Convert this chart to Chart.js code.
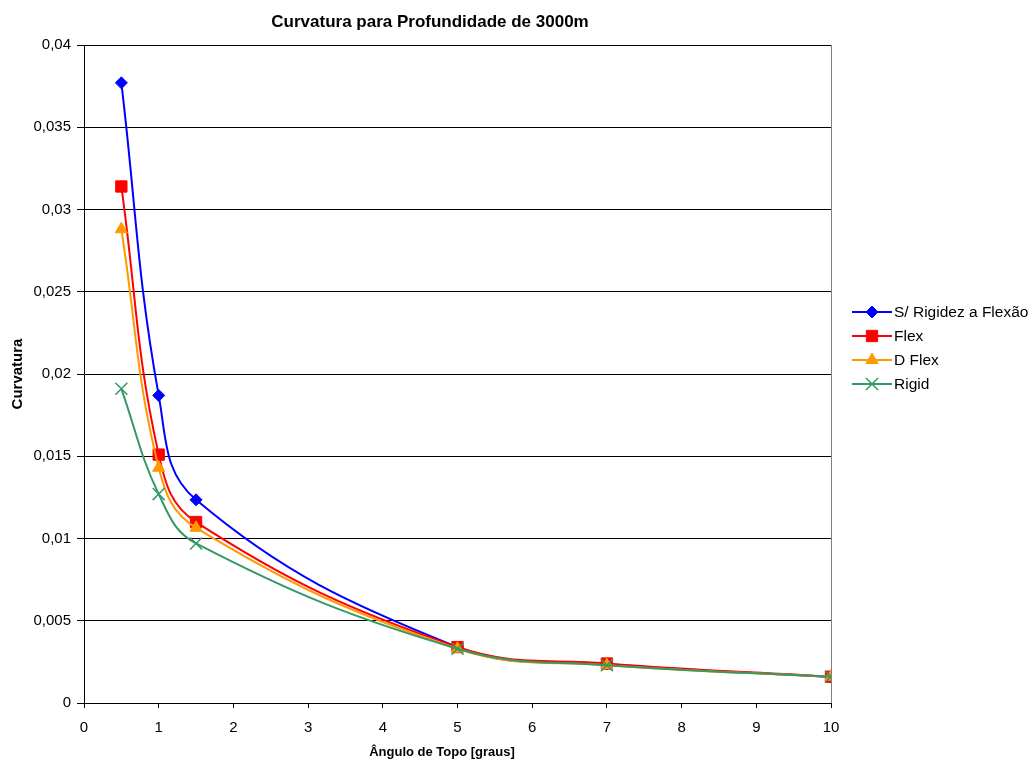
<!DOCTYPE html>
<html>
<head>
<meta charset="utf-8">
<script src="https://cdn.jsdelivr.net/npm/chart.js@4"></script>
<style>
  html, body { margin: 0; padding: 0; background: #fff; }
  canvas { display: block; }
</style>
</head>
<body>
<canvas id="c" width="1030" height="760"></canvas>
<script>
// Ângulo de topo (graus)
const angles = [0.5, 1, 1.5, 5, 7, 10];

// Curvatura por modelo
const semRigidez = [0.0377, 0.0187, 0.01235, 0.0034, 0.00237, 0.00158];
const flex       = [0.0314, 0.0151, 0.0110, 0.0034, 0.0024, 0.0016];
const dFlex      = [0.0288, 0.0143, 0.01065, 0.0033, 0.0023, 0.0016];
const rigid      = [0.0191, 0.0127, 0.0097, 0.0033, 0.0023, 0.0016];

const seriesNames = ['S/ Rigidez a Flexão', 'Flex', 'D Flex', 'Rigid'];

const chartTitle = 'Curvatura para Profundidade de 3000m';
const xTitle = 'Ângulo de Topo [graus]';
const yTitle = 'Curvatura';

const FONT = '"Liberation Sans", Arial, sans-serif';

function pts(values) {
  return angles.map((a, i) => ({ x: a, y: values[i] }));
}

function fmtY(v) {
  return String(parseFloat(v.toFixed(4))).replace('.', ',');
}

// Title, axis titles, plot-area right edge and legend
const decorations = {
  id: 'decorations',
  afterDraw(chart) {
    const ctx = chart.ctx;
    const area = chart.chartArea;
    ctx.save();

    // plot area right edge
    ctx.strokeStyle = '#808080';
    ctx.lineWidth = 1;
    ctx.beginPath();
    ctx.moveTo(Math.round(area.right) + 0.5, area.top);
    ctx.lineTo(Math.round(area.right) + 0.5, area.bottom);
    ctx.stroke();

    ctx.fillStyle = '#000';
    ctx.textBaseline = 'middle';
    ctx.textAlign = 'center';
    ctx.font = 'bold 17px ' + FONT;
    ctx.fillText(chartTitle, 430, 22);

    ctx.font = 'bold 13px ' + FONT;
    ctx.fillText(xTitle, 442, 752);

    ctx.save();
    ctx.font = 'bold 15px ' + FONT;
    ctx.translate(18, (area.top + area.bottom) / 2);
    ctx.rotate(-Math.PI / 2);
    ctx.fillText(yTitle, 0, 0);
    ctx.restore();

    // legend
    const rows = [312, 336, 360, 384];
    chart.data.datasets.forEach((ds, i) => {
      const y = rows[i];
      ctx.strokeStyle = ds.borderColor;
      ctx.lineWidth = 2;
      ctx.beginPath();
      ctx.moveTo(852, y);
      ctx.lineTo(892, y);
      ctx.stroke();
      ctx.fillStyle = ds.pointBackgroundColor;
      ctx.strokeStyle = ds.pointBorderColor;
      ctx.lineWidth = ds.pointBorderWidth;
      Chart.helpers.drawPoint(ctx, {
        pointStyle: ds.pointStyle,
        radius: ds.pointRadius,
        rotation: 0,
        borderWidth: ds.pointBorderWidth
      }, 872, y);
      ctx.fillStyle = '#000';
      ctx.textAlign = 'left';
      ctx.font = '15.5px ' + FONT;
      ctx.fillText(ds.label, 894, y + 1);
    });
    ctx.restore();
  }
};

const seriesStyle = [
  { color: '#0000FF', style: 'rectRot',  radius: 6,   bw: 1,   order: 4 },
  { color: '#FF0000', style: 'rect',     radius: 8,   bw: 1,   order: 3 },
  { color: '#FF9900', style: 'triangle', radius: 7,   bw: 1,   order: 2 },
  { color: '#339966', style: 'crossRot', radius: 8.5, bw: 1.5, order: 1 }
];

const allValues = [semRigidez, flex, dFlex, rigid];

const datasets = allValues.map((vals, i) => {
  const s = seriesStyle[i];
  return {
    label: seriesNames[i],
    data: pts(vals),
    showLine: true,
    tension: 0.4,
    borderColor: s.color,
    borderWidth: 2,
    backgroundColor: s.color,
    pointStyle: s.style,
    pointRadius: s.radius,
    pointHoverRadius: s.radius,
    pointBackgroundColor: s.color,
    pointBorderColor: s.color,
    pointBorderWidth: s.bw,
    order: s.order
  };
});

new Chart(document.getElementById('c'), {
  type: 'scatter',
  data: { datasets },
  options: {
    responsive: false,
    animation: false,
    events: [],
    layout: { padding: { left: 0, right: 199, top: 45, bottom: 0 } },
    plugins: {
      legend: { display: false },
      title: { display: false },
      tooltip: { enabled: false }
    },
    scales: {
      x: {
        type: 'linear',
        min: 0,
        max: 10,
        afterFit(scale) { scale.height = 57; },
        ticks: {
          stepSize: 1,
          color: '#000',
          padding: 11,
          font: { family: FONT, size: 15 }
        },
        grid: {
          drawOnChartArea: false,
          drawTicks: true,
          tickLength: 5,
          tickColor: '#000'
        },
        border: { color: '#000', width: 1 }
      },
      y: {
        type: 'linear',
        min: 0,
        max: 0.04,
        afterFit(scale) { scale.width = 84; },
        ticks: {
          stepSize: 0.005,
          color: '#000',
          padding: 6,
          font: { family: FONT, size: 15 },
          callback: (v) => fmtY(v)
        },
        grid: {
          color: '#000',
          lineWidth: 1,
          drawTicks: true,
          tickLength: 7,
          tickColor: '#000'
        },
        border: { color: '#000', width: 1 }
      }
    }
  },
  plugins: [decorations]
});
</script>
</body>
</html>
